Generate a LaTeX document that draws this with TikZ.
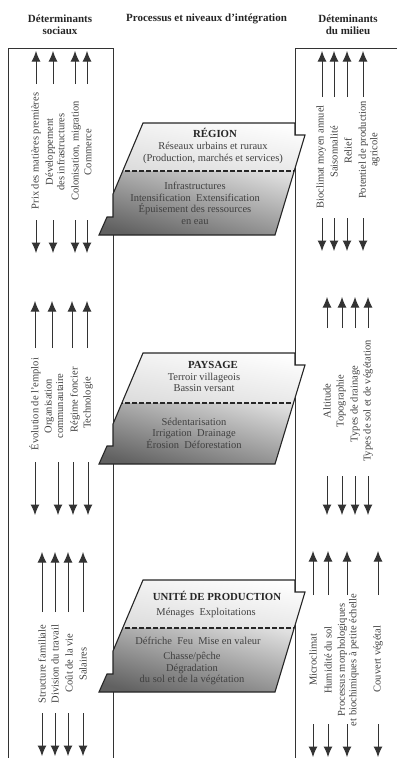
\documentclass[tikz,border=0pt]{standalone}
\usepackage{fontspec}
\setmainfont{Liberation Serif}
\usetikzlibrary{arrows.meta}

\tikzset{
  boxline/.style={draw=black!80, line width=1pt},
  band/.style={draw=black!85, line width=1.1pt, line join=miter},
  bandcut/.style={draw=black!85, line width=1.2pt, dash pattern=on 4.5pt off 2.5pt},
  sidearrow/.style={draw=black!80, line width=1pt, -{Latex[length=10.5pt,width=9pt]}},
  sidetext/.style={rotate=90, align=center, text=black!75, inner sep=0pt,
    font=\fontsize{10.5}{11.5}\selectfont},
  header/.style={align=center, text=black!85, inner sep=0pt,
    font=\bfseries\fontsize{11}{12}\selectfont},
  leveltitle/.style={text=black!85, inner sep=0pt,
    font=\bfseries\fontsize{10.8}{12}\selectfont},
  leveltext/.style={align=center, text=black!75, inner sep=0pt,
    font=\fontsize{10.5}{11.5}\selectfont},
}

% One level of integration: a slanted band hooked into both side columns.
% #1 top edge, #2 dashed divider, #3 bottom edge
\newcommand\levelband[3]{%
  \begin{scope}
    \clip (143,#1) -- (295,#1) -- (295,#1+12) -- (305,#1+12) -- (275,#3)
      -- (99,#3) -- (107,#3-18) -- (113,#3-18) -- (113,#1+71) -- cycle;
    \shade[top color=white, bottom color=black!14, shading angle=-10]
      (90,#1) rectangle (320,#2);
    \shade[top color=black!12, bottom color=black!62, shading angle=-15]
      (90,#2) rectangle (320,#3);
    \draw[bandcut] (90,#2) -- (320,#2);
  \end{scope}
  \draw[band] (143,#1) -- (295,#1) -- (295,#1+12) -- (305,#1+12) -- (275,#3)
    -- (99,#3) -- (107,#3-18) -- (113,#3-18) -- (113,#1+71) -- cycle;
}

% Vertical arrows above and below a group of labels.
% #1 prefix, #2 x list, #3 up start, #4 up tip, #5 down start, #6 down tip
\newcommand\arrowpair[6]{%
  \foreach \x [count=\i] in {#2} {
    \coordinate (#1ua\i) at (\x,#3);
    \coordinate (#1ub\i) at (\x,#4);
    \coordinate (#1da\i) at (\x,#5);
    \coordinate (#1db\i) at (\x,#6);
    \draw[sidearrow] (#1ua\i) -- (#1ub\i);
    \draw[sidearrow] (#1da\i) -- (#1db\i);
  }%
}

\begin{document}
\begin{tikzpicture}[x=1pt, y=-1pt]
  \useasboundingbox (0,0) rectangle (397,758);

  % column headings
  \node[header] (hsoc) at (60,25) {Déterminants\\sociaux};
  \node[header] (hproc) at (206.5,19) {Processus et niveaux d'intégration};
  \node[header] (hmil) at (348,25) {Déteminants\\du milieu};

  % side columns
  \draw[boxline] (8,758) -- (8,48) -- (113,48) -- (113,758);
  \draw[boxline] (397,48) -- (295,48) -- (295,758);

  % ---------- social determinants ----------
  \arrowpair{lr}{36,53,75,87}{84}{51}{220}{253}
  \node[sidetext] (sprix) at (36,151) {Prix des matières premières};
  \node[sidetext] (sdev)  at (55,152) {Développement\\des infrastructures};
  \node[sidetext] (scol)  at (76,151) {Colonisation, migration};
  \node[sidetext] (scom)  at (88,152) {Commerce};

  \foreach \x [count=\i] in {35,52,72,87} {
    \coordinate (lpua\i) at (\x,348);
    \coordinate (lpub\i) at (\x,301);
    \draw[sidearrow] (lpua\i) -- (lpub\i);
  }
  \foreach \x [count=\i] in {35,58,73,88} {
    \coordinate (lpda\i) at (\x,462);
    \coordinate (lpdb\i) at (\x,515);
    \draw[sidearrow] (lpda\i) -- (lpdb\i);
  }
  \node[sidetext] (semp) at (35,404) {Évolution de l'emploi};
  \node[sidetext] (sorg) at (54,406) {Organisation\\communautaire};
  \node[sidetext] (sreg) at (75,400) {Régime foncier};
  \node[sidetext] (stec) at (88,403) {Technologie};

  \arrowpair{lu}{42,55,68,83}{612}{552}{713}{756}
  \node[sidetext] (sfam) at (42,664) {Structure familiale};
  \node[sidetext] (sdiv) at (55,664) {Division du travail};
  \node[sidetext] (scou) at (69,663) {Coût de la vie};
  \node[sidetext] (ssal) at (83,664) {Salaires};

  % ---------- environmental determinants ----------
  \arrowpair{rr}{322,334,347,363}{97}{51}{218}{251}
  \node[sidetext] (sbio) at (321,157) {Bioclimat moyen annuel};
  \node[sidetext] (ssai) at (334,152) {Saisonnalité};
  \node[sidetext] (srel) at (348,151) {Relief};
  \node[sidetext] (spot) at (369,150) {Potentiel de production\\agricole};

  \arrowpair{rp}{327,342,355,368}{328}{297}{476}{515}
  \node[sidetext] (salt) at (327,401) {Altitude};
  \node[sidetext] (stop) at (341,401) {Topographie};
  \node[sidetext] (sdra) at (355,404) {Types de drainage};
  \node[sidetext] (ssol) at (368,401) {Types de sol et de végétation};

  \arrowpair{ru}{313,328,347,378}{595}{551}{724}{757}
  \node[sidetext] (smic) at (313,660) {Microclimat};
  \node[sidetext] (shum) at (328,660) {Humidité du sol};
  \node[sidetext] (spro) at (348,660) {Processus morphologiques\\et biochimiques à petite échelle};
  \node[sidetext] (scov) at (378,659) {Couvert végétal};

  % ---------- levels of integration ----------
  \levelband{123}{171}{235}
  \node[leveltitle] (treg) at (215,133) {RÉGION};
  \node[leveltext] (ureg) at (213,153)
    {Réseaux urbains et ruraux\\(Production, marchés et services)};
  \node[leveltext] (lreg) at (195,203.5)
    {Infrastructures\\Intensification\ \ Extensification\\Épuisement des ressources\\en eau};

  \levelband{353}{403}{464}
  \node[leveltitle] (tpay) at (213,365) {PAYSAGE};
  \node[leveltext] (upay) at (204,382.5) {Terroir villageois\\Bassin versant};
  \node[leveltext] (lpay) at (194,433)
    {Sédentarisation\\Irrigation\ \ Drainage\\Érosion\ \ Déforestation};

  \levelband{580}{628}{692}
  \node[leveltitle] (tuni) at (217,596) {UNITÉ DE PRODUCTION};
  \node[leveltext] (uuni) at (206,613) {Ménages\ \ Exploitations};
  \node[leveltext] (luni1) at (198,641) {Défriche\ \ Feu\ \ Mise en valeur};
  \node[leveltext] (luni2) at (192,668.5)
    {Chasse/pêche\\Dégradation\\du sol et de la végétation};
\end{tikzpicture}
\end{document}
